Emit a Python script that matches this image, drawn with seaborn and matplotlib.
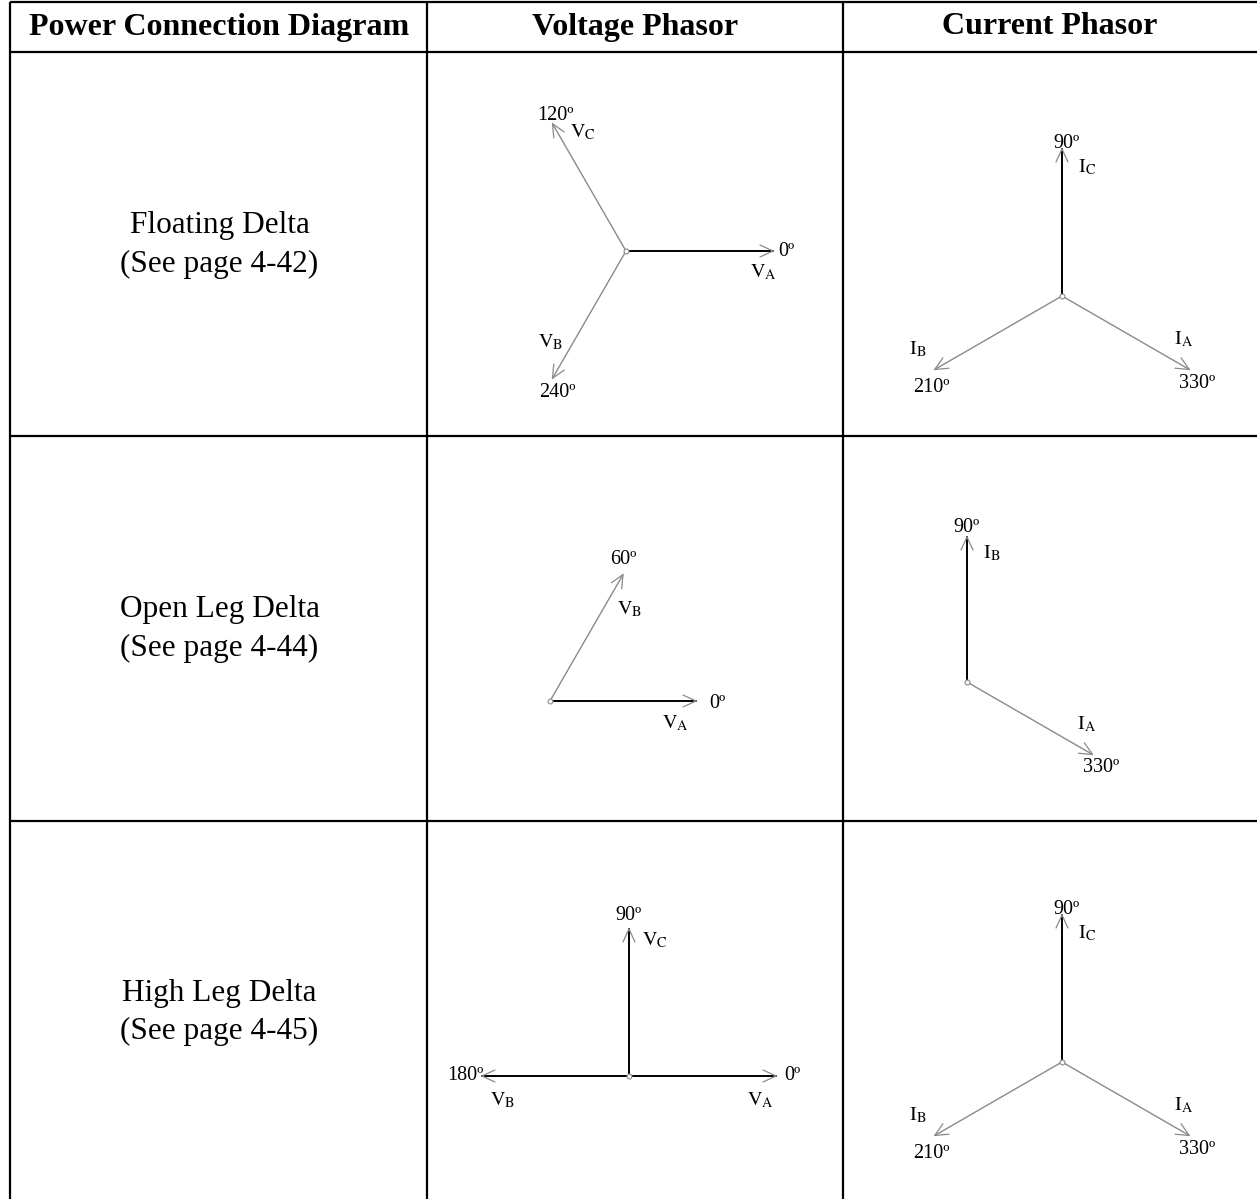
import numpy as np
import pandas as pd
import matplotlib
matplotlib.use("Agg")
import matplotlib.pyplot as plt
import seaborn as sns

# ---------------- data ----------------
headers = ["Power Connection Diagram", "Voltage Phasor", "Current Phasor"]
row_names = ["Floating Delta", "Open Leg Delta", "High Leg Delta"]
row_refs = ["(See page 4-42)", "(See page 4-44)", "(See page 4-45)"]

# Floating Delta
fd_volt_names = ["V_A", "V_B", "V_C"]
fd_volt_angles = [0, 240, 120]
fd_volt_mags = [147, 147, 147]
fd_curr_names = ["I_A", "I_B", "I_C"]
fd_curr_angles = [330, 210, 90]
fd_curr_mags = [147, 147, 147]

# Open Leg Delta
ol_volt_names = ["V_A", "V_B"]
ol_volt_angles = [0, 60]
ol_volt_mags = [146, 146]
ol_curr_names = ["I_A", "I_B"]
ol_curr_angles = [330, 90]
ol_curr_mags = [145, 145]

# High Leg Delta
hl_volt_names = ["V_A", "V_B", "V_C"]
hl_volt_angles = [0, 180, 90]
hl_volt_mags = [147, 147, 147]
hl_curr_names = ["I_A", "I_B", "I_C"]
hl_curr_angles = [330, 210, 90]
hl_curr_mags = [147, 147, 147]

# ---------------- style / layout ----------------
W, H = 1257, 1200
sns.set_theme(style="white")
plt.rcParams["font.family"] = ["Liberation Serif", "DejaVu Serif"]
plt.rcParams["mathtext.fontset"] = "stix"
plt.rcParams["text.color"] = "black"

BLACK = "#000000"
GRAY = "#8a8a8a"

# per diagram: origin, colours, name-label offset (from tip), angle-label offset (from tip)
diagrams = [
    dict(names=fd_volt_names, angles=fd_volt_angles, mags=fd_volt_mags, origin=(626, 251),
         colors=["k", "g", "g"],
         name_off=[(-10, 21), (-2, -36), (30, 9)],
         ang_off=[(13, 0), (5, 14), (3, -8)]),
    dict(names=fd_curr_names, angles=fd_curr_angles, mags=fd_curr_mags, origin=(1062, 296),
         colors=["g", "g", "k"],
         name_off=[(-6, -30), (-17, -20), (25, 18)],
         ang_off=[(8, 14), (-3, 18), (5, -6)]),
    dict(names=ol_volt_names, angles=ol_volt_angles, mags=ol_volt_mags, origin=(550, 701),
         colors=["k", "g"],
         name_off=[(-21, 22), (7, 35)],
         ang_off=[(21, 2), (0, -15)]),
    dict(names=ol_curr_names, angles=ol_curr_angles, mags=ol_curr_mags, origin=(967, 682),
         colors=["g", "k"],
         name_off=[(-6, -30), (25, 16)],
         ang_off=[(9, 13), (0, -9)]),
    dict(names=hl_volt_names, angles=hl_volt_angles, mags=hl_volt_mags, origin=(629, 1076),
         colors=["k", "k", "k"],
         name_off=[(-16, 24), (21, 24), (26, 11)],
         ang_off=[(16, 0), (-17, -1), (-1, -14)]),
    dict(names=hl_curr_names, angles=hl_curr_angles, mags=hl_curr_mags, origin=(1062, 1062),
         colors=["g", "g", "k"],
         name_off=[(-6, -30), (-17, -20), (25, 18)],
         ang_off=[(8, 14), (-3, 18), (5, -6)]),
]

fig = plt.figure(figsize=(W / 100, H / 100), dpi=100)
ax = fig.add_axes([0, 0, 1, 1])
ax.set_xlim(0, W)
ax.set_ylim(H, 0)
ax.axis("off")

# ---------------- table grid ----------------
col_x = [10, 427, 843]
row_y = [2, 52, 436, 821]
for y in row_y:
    ax.plot([col_x[0], W], [y, y], color="black", lw=1.6, solid_capstyle="butt")
for x in col_x:
    ax.plot([x, x], [row_y[0], H - 1], color="black", lw=1.6, solid_capstyle="butt")

col_centers = [(col_x[0] + col_x[1]) / 2 + 1, (col_x[1] + col_x[2]) / 2, (col_x[2] + W) / 2]
for cx, htxt in zip(col_centers, headers):
    ax.text(cx, 27, htxt, ha="center", va="center", fontsize=23, fontweight="bold",
            color="black")

row_text_y = [(226, 264), (610, 648), (993, 1031)]
for (y1, y2), nm, ref in zip(row_text_y, row_names, row_refs):
    ax.text(col_centers[0], y1, nm, ha="center", va="center", fontsize=22.5, color="black")
    ax.text(col_centers[0], y2, ref, ha="center", va="center", fontsize=22.5, color="black")

# ---------------- phasors ----------------
rows = []
seg = 0
heads = []
labels = []
for d in diagrams:
    ox, oy = d["origin"]
    for i, (nm, ang, mag) in enumerate(zip(d["names"], d["angles"], d["mags"])):
        th = np.deg2rad(ang)
        tx, ty = ox + mag * np.cos(th), oy - mag * np.sin(th)
        ckey = d["colors"][i]
        rows.append(dict(x=ox, y=oy, seg=seg, c=ckey))
        rows.append(dict(x=tx, y=ty, seg=seg, c=ckey))
        seg += 1
        heads.append((tx, ty, th))
        letter, sub = nm.split("_")
        nx, ny = d["name_off"][i]
        labels.append((tx + nx, ty + ny, r"$\mathrm{%s}_{\mathrm{%s}}$" % (letter, sub)))
        axx, axy = d["ang_off"][i]
        labels.append((tx + axx, ty + axy, f"{ang}º"))
    ax.plot([ox], [oy], marker="o", ms=3.5, mfc="white", mec=GRAY, mew=0.8, zorder=5)

df = pd.DataFrame(rows)
sns.lineplot(data=df, x="x", y="y", units="seg", estimator=None, sort=False,
             hue="c", palette={"k": BLACK, "g": GRAY},
             size="c", sizes={"k": 1.4, "g": 1.0},
             legend=False, ax=ax)
ax.set_xlim(0, W)
ax.set_ylim(H, 0)
ax.axis("off")

# open "V" arrowheads
HL, HW = 13, 6
for tx, ty, th in heads:
    ux, uy = np.cos(th), -np.sin(th)
    px, py = -uy, ux
    bx, by = tx - HL * ux, ty - HL * uy
    ax.plot([bx + HW * px, tx, bx - HW * px], [by + HW * py, ty, by - HW * py],
            color=GRAY, lw=0.9, zorder=4)

for x, y, s in labels:
    ax.text(x, y, s, ha="center", va="center", fontsize=14.5, color="black")

fig.savefig("out.png", dpi=100)
